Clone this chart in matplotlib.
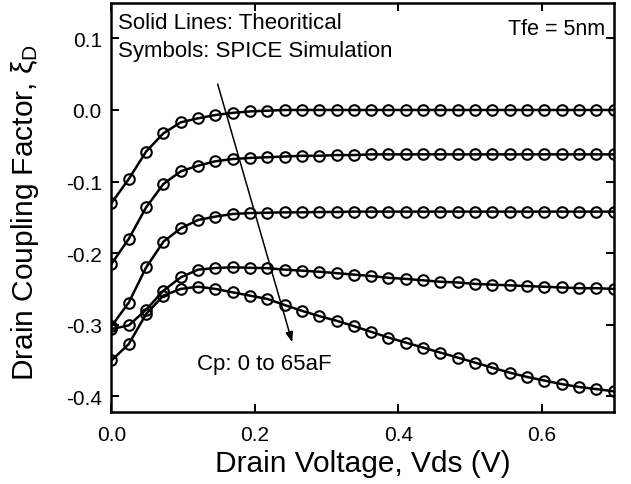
import numpy as np
import matplotlib
matplotlib.use("Agg")
import matplotlib.pyplot as plt

plt.rcParams['font.family'] = ['Liberation Sans', 'DejaVu Sans']
plt.rcParams['mathtext.fontset'] = 'custom'
plt.rcParams['mathtext.rm'] = 'Liberation Sans'
plt.rcParams['mathtext.it'] = 'Liberation Sans'
plt.rcParams['axes.unicode_minus'] = False

# Drain voltage sampling (V)
vds = [0.0, 0.0241, 0.0483, 0.0724, 0.0966, 0.1207, 0.1448, 0.1690, 0.1931, 0.2172,
       0.2414, 0.2655, 0.2897, 0.3138, 0.3379, 0.3621, 0.3862, 0.4103, 0.4345, 0.4586,
       0.4828, 0.5069, 0.5310, 0.5552, 0.5793, 0.6034, 0.6276, 0.6517, 0.6759, 0.7000]

# Drain coupling factor for Cp from 0 to 65 aF
xi_c1 = [-0.130, -0.0964, -0.058, -0.0326, -0.0172, -0.0116, -0.007, -0.004, -0.002, -0.001,
         0.0, 0.0, 0.0, 0.0, 0.0, 0.0, 0.0, 0.0, 0.0, 0.0,
         0.0, 0.0, 0.0, 0.0, 0.0, 0.0, 0.0, 0.0, 0.0, 0.0]
xi_c2 = [-0.215, -0.180, -0.136, -0.1034, -0.0857, -0.0778, -0.0717, -0.0685, -0.067, -0.066,
         -0.065, -0.064, -0.064, -0.063, -0.063, -0.062, -0.062, -0.062, -0.062, -0.062,
         -0.062, -0.062, -0.062, -0.062, -0.062, -0.062, -0.062, -0.062, -0.062, -0.062]
xi_c3 = [-0.302, -0.269, -0.220, -0.184, -0.1653, -0.1537, -0.149, -0.1453, -0.144, -0.1435,
         -0.143, -0.143, -0.1425, -0.1425, -0.142, -0.142, -0.142, -0.142, -0.142, -0.142,
         -0.142, -0.142, -0.142, -0.142, -0.142, -0.142, -0.142, -0.142, -0.142, -0.142]
xi_c4 = [-0.306, -0.301, -0.279, -0.2525, -0.2338, -0.2231, -0.2208, -0.2198, -0.2205, -0.221,
         -0.223, -0.2245, -0.226, -0.228, -0.230, -0.232, -0.2345, -0.236, -0.238, -0.240,
         -0.241, -0.243, -0.244, -0.245, -0.246, -0.247, -0.248, -0.249, -0.249, -0.250]
xi_c5 = [-0.350, -0.327, -0.285, -0.2594, -0.250, -0.2469, -0.250, -0.2548, -0.2594, -0.264,
         -0.2725, -0.2806, -0.288, -0.2945, -0.302, -0.310, -0.318, -0.325, -0.332, -0.339,
         -0.346, -0.353, -0.360, -0.367, -0.373, -0.378, -0.383, -0.387, -0.390, -0.393]

series = [xi_c1, xi_c2, xi_c3, xi_c4, xi_c5]

fig = plt.figure(figsize=(6.31, 4.85), dpi=100)
ax = fig.add_axes([0.1767, 0.14845, 0.7956, 0.8433])

for ys in series:
    ax.plot(vds, ys, '-', color='black', lw=1.8, zorder=2)
    ax.plot(vds, ys, 'o', mfc='none', mec='black', ms=7.6, mew=1.5, zorder=3, clip_on=True)

ax.set_xlim(0, 0.7)
ax.set_ylim(-0.422, 0.1495)
ax.set_xticks([0.0, 0.2, 0.4, 0.6])
ax.set_yticks([-0.4, -0.3, -0.2, -0.1, 0.0, 0.1])
ax.xaxis.set_major_formatter(matplotlib.ticker.FormatStrFormatter('%.1f'))
ax.yaxis.set_major_formatter(matplotlib.ticker.FormatStrFormatter('%.1f'))
ax.tick_params(direction='in', length=5.5, width=1.4, top=True, right=True,
               labelsize=15)
ax.tick_params(axis='x', pad=9)
ax.tick_params(axis='y', pad=7)
for s in ax.spines.values():
    s.set_linewidth(1.8)

ax.set_xlabel('Drain Voltage, Vds (V)', fontsize=21.5, labelpad=4)
ax.set_ylabel(r'Drain Coupling Factor, $\mathregular{\xi_D}$', fontsize=21.5)
ax.yaxis.set_label_coords(-0.14, 0.49)

ax.text(0.009, 0.1146, 'Solid Lines: Theoritical', fontsize=16, va='baseline', ha='left')
ax.text(0.009, 0.0755, 'Symbols: SPICE Simulation', fontsize=16, va='baseline', ha='left')
ax.text(0.688, 0.106, 'Tfe = 5nm', fontsize=15.5, va='baseline', ha='right')
ax.text(0.119, -0.362, 'Cp: 0 to 65aF', fontsize=16, va='baseline', ha='left')

ax.annotate('', xy=(0.252, -0.3246), xytext=(0.148, 0.0363),
            arrowprops=dict(arrowstyle='-|>,head_length=0.6,head_width=0.22',
                            color='black', lw=1.1, shrinkA=0, shrinkB=0))

fig.savefig('out.png', dpi=100)
